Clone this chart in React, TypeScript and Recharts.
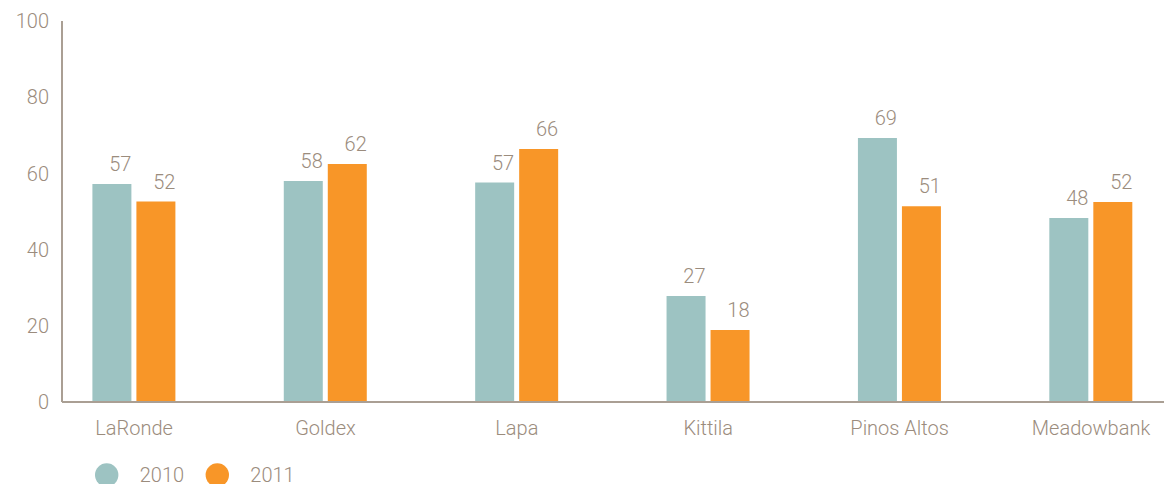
import React from 'react';
import { BarChart, Bar, XAxis, YAxis, Legend, LabelList } from 'recharts';

const categories = ['LaRonde', 'Goldex', 'Lapa', 'Kittila', 'Pinos Altos', 'Meadowbank'];
const values2010 = [57.2, 58.0, 57.6, 27.8, 69.3, 48.3];
const values2011 = [52.6, 62.5, 66.4, 18.9, 51.4, 52.5];
const yTicks = [0, 20, 40, 60, 80, 100];
const seriesNames = ['2010', '2011'];

const data = categories.map((name, i) => ({ name, s2010: values2010[i], s2011: values2011[i] }));

const TEAL = '#9dc3c2';
const ORANGE = '#f89628';
const TEXT = '#9b8c7d';
const AXIS = '#aa9f94';
const FONT = 'Roboto, "Liberation Sans", Arial, sans-serif';

const ValueLabel = (props: any) => {
  const x = Number(props.x);
  const y = Number(props.y);
  const width = Number(props.width);
  const value = Number(props.value);
  return (
    <text x={x + width} y={y - 13} textAnchor="end" fill={TEXT} fontSize={20} fontFamily={FONT} fontWeight={300}>
      {Math.floor(value)}
    </text>
  );
};

const LegendContent = (props: any) => {
  const payload = props.payload || [];
  return (
    <svg width={320} height={40} style={{ display: 'block' }}>
      {payload.map((entry: any, i: number) => {
        const cx = 98.7 + i * 110.6;
        return (
          <g key={i}>
            <circle cx={cx} cy={15} r={11.7} fill={entry.color} />
            <text x={cx + 33} y={21.5} fill={TEXT} fontSize={20} fontFamily={FONT} fontWeight={300}>
              {entry.value}
            </text>
          </g>
        );
      })}
    </svg>
  );
};

export default function App() {
  return (
    <div style={{ width: 1180, height: 476, overflow: 'hidden' }}>
      <BarChart
        width={1180}
        height={476}
        data={data}
        margin={{ top: 13, right: 0, bottom: 0, left: 0 }}
        barSize={39}
        barGap={5}
      >
        <XAxis
          dataKey="name"
          height={82}
          padding={{ left: -23.6, right: 1.3 }}
          axisLine={{ stroke: AXIS, strokeWidth: 2 }}
          tickLine={false}
          tickSize={0}
          tickMargin={19}
          interval={0}
          tick={{ fill: TEXT, fontSize: 20, fontFamily: FONT, fontWeight: 300 }}
        />
        <YAxis
          width={54}
          domain={[0, 100]}
          ticks={yTicks}
          axisLine={{ stroke: AXIS, strokeWidth: 2 }}
          tickLine={false}
          tickSize={0}
          tickMargin={13}
          tick={{ fill: TEXT, fontSize: 20, fontFamily: FONT, fontWeight: 300 }}
        />
        <Legend
          layout="horizontal"
          verticalAlign="middle"
          align="center"
          wrapperStyle={{ top: 452, left: 0, width: 320, height: 40 }}
          content={LegendContent}
        />
        <Bar dataKey="s2010" name={seriesNames[0]} fill={TEAL} isAnimationActive={false}>
          <LabelList dataKey="s2010" content={ValueLabel} />
        </Bar>
        <Bar dataKey="s2011" name={seriesNames[1]} fill={ORANGE} isAnimationActive={false}>
          <LabelList dataKey="s2011" content={ValueLabel} />
        </Bar>
      </BarChart>
    </div>
  );
}
